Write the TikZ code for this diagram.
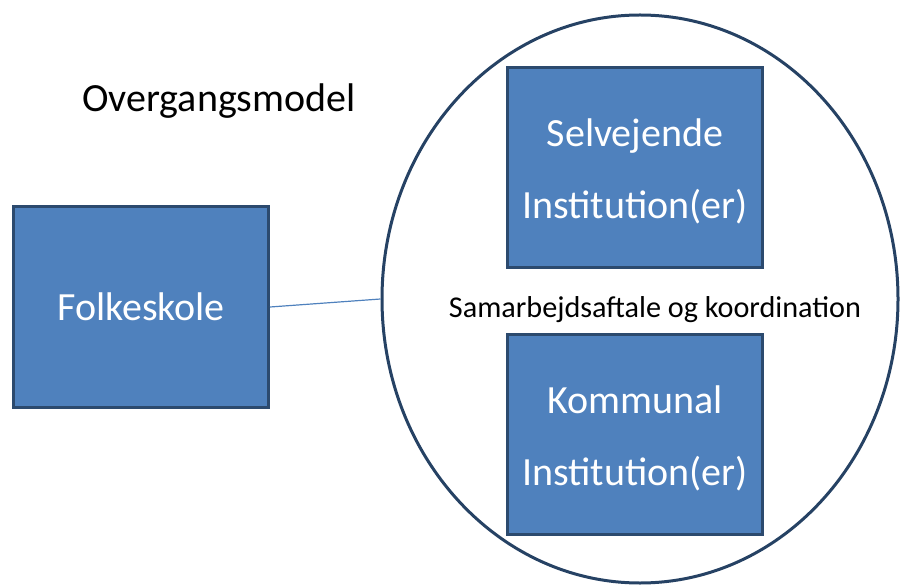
\documentclass[tikz,border=0pt]{standalone}
\usepackage{fontspec}
\setmainfont{Carlito}
\usetikzlibrary{shapes.geometric}
\definecolor{boxfill}{HTML}{4F81BD}
\definecolor{boxline}{HTML}{2C4A6E}
\definecolor{ringline}{HTML}{264264}
\tikzset{
  x=1pt, y=1pt,
  bluebox/.style={draw=boxline, line width=3pt, fill=boxfill,
    minimum width=255pt, minimum height=200pt, inner sep=0pt},
  boxtext/.style={text=white, inner sep=0pt, align=center,
    font=\fontsize{40}{72}\selectfont},
  ring/.style={draw=ringline, line width=3pt, ellipse, minimum width=516pt, minimum height=568pt, inner sep=0pt},
  plainlabel/.style={text=black, inner sep=0pt}
}
\begin{document}
\begin{tikzpicture}
\useasboundingbox (0,0) rectangle (910,-585);
\node[ring] (ring) at (640,-299) {};
\node[bluebox] (folk) at (141,-307) {};
\node[boxtext] (folktext) at (folk.center) {Folkeskole};
\node[bluebox] (selv) at (635,-167.5) {};
\node[boxtext, yshift=-4pt] (selvtext) at (selv.center) {Selvejende\\Institution(er)};
\node[bluebox] (komm) at (635,-434.5) {};
\node[boxtext, yshift=-4pt] (kommtext) at (komm.center) {Kommunal\\Institution(er)};
\node[plainlabel, font=\fontsize{30.2}{36}\selectfont] (samarb) at (655,-310) {Samarbejdsaftale og koordination};
\node[plainlabel, font=\fontsize{40}{48}\selectfont, anchor=base west] (title) at (82,-112) {Overgangsmodel};
\draw[boxfill, line width=1.2pt] (folk.east) -- (ring.west);
\end{tikzpicture}
\end{document}
